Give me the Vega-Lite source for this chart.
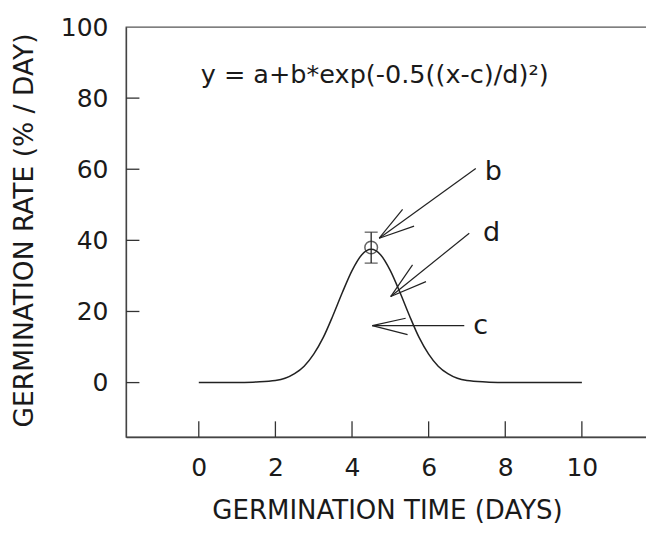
{
  "$schema": "https://vega.github.io/schema/vega-lite/v6.json",
  "width": 521,
  "height": 410,
  "autosize": "none",
  "padding": {"left": 126, "top": 27, "right": 0, "bottom": 96},
  "background": "white",
  "config": {
    "font": "DejaVu Sans",
    "view": {"stroke": "#555", "strokeWidth": 1.3},
    "axis": {
      "domainColor": "#444",
      "domainWidth": 1.3,
      "ticks": false,
      "labelColor": "#1a1a1a",
      "titleColor": "#1a1a1a",
      "labelFont": "DejaVu Sans",
      "titleFont": "DejaVu Sans",
      "labelFontWeight": "normal",
      "titleFontWeight": "normal",
      "grid": false
    }
  },
  "datasets": {
    "curve": [
      {"x": 0, "y": 0}, {"x": 0.5, "y": 0}, {"x": 1, "y": 0.05}, {"x": 1.5, "y": 0.2},
      {"x": 2, "y": 0.6}, {"x": 2.25, "y": 1.2}, {"x": 2.5, "y": 2.5}, {"x": 2.75, "y": 4.6},
      {"x": 3, "y": 8.0}, {"x": 3.25, "y": 12.7}, {"x": 3.5, "y": 18.8}, {"x": 3.75, "y": 25.4},
      {"x": 4, "y": 31.5}, {"x": 4.25, "y": 35.9}, {"x": 4.5, "y": 37.5}, {"x": 4.75, "y": 35.9},
      {"x": 5, "y": 31.5}, {"x": 5.25, "y": 25.4}, {"x": 5.5, "y": 18.8}, {"x": 5.75, "y": 12.7},
      {"x": 6, "y": 8.0}, {"x": 6.25, "y": 4.6}, {"x": 6.5, "y": 2.5}, {"x": 6.75, "y": 1.2},
      {"x": 7, "y": 0.6}, {"x": 7.5, "y": 0.2}, {"x": 8, "y": 0.05}, {"x": 8.5, "y": 0},
      {"x": 9, "y": 0}, {"x": 9.5, "y": 0}, {"x": 10, "y": 0}
    ],
    "peak": [{"x": 4.5, "y": 38, "lo": 33.6, "hi": 42.3}],
    "caps": [{"x": 4.5, "y": 33.6}, {"x": 4.5, "y": 42.3}],
    "xticks": [{"v": 0}, {"v": 2}, {"v": 4}, {"v": 6}, {"v": 8}, {"v": 10}],
    "yticks": [{"v": 0}, {"v": 20}, {"v": 40}, {"v": 60}, {"v": 80}],
    "arrows": [
      {"x": 7.23, "y": 60.2, "x2": 4.71, "y2": 40.6},
      {"x": 5.32, "y": 48.7, "x2": 4.71, "y2": 40.6},
      {"x": 5.62, "y": 44.0, "x2": 4.71, "y2": 40.6},
      {"x": 7.06, "y": 42.0, "x2": 5.01, "y2": 24.2},
      {"x": 5.58, "y": 33.1, "x2": 5.01, "y2": 24.2},
      {"x": 5.93, "y": 28.4, "x2": 5.01, "y2": 24.2},
      {"x": 6.93, "y": 16.0, "x2": 4.53, "y2": 16.0},
      {"x": 5.40, "y": 18.1, "x2": 4.53, "y2": 16.0},
      {"x": 5.45, "y": 13.5, "x2": 4.53, "y2": 16.0}
    ],
    "labels": [
      {"x": 7.69, "y": 59.3, "t": "b"},
      {"x": 7.64, "y": 42.0, "t": "d"},
      {"x": 7.36, "y": 15.8, "t": "c"}
    ],
    "equation": [{"x": 0.05, "y": 86.4, "t": "y = a+b*exp(-0.5((x-c)/d)²)"}]
  },
  "layer": [
    {
      "data": {"name": "curve"},
      "mark": {"type": "line", "color": "#222", "strokeWidth": 1.5, "interpolate": "monotone"},
      "encoding": {
        "x": {
          "field": "x", "type": "quantitative",
          "scale": {"domain": [-1.9, 11.7], "nice": false, "zero": false},
          "axis": {
            "title": "GERMINATION TIME (DAYS)",
            "values": [0, 2, 4, 6, 8, 10],
            "labelPadding": 18,
            "labelFontSize": 25,
            "titleFontSize": 26,
            "titleX": 261,
            "titleY": 73,
            "titleAlign": "center",
            "titleBaseline": "middle"
          }
        },
        "y": {
          "field": "y", "type": "quantitative",
          "scale": {"domain": [-15.3, 100], "nice": false, "zero": false},
          "axis": {
            "title": "GERMINATION RATE (% / DAY)",
            "values": [0, 20, 40, 60, 80, 100],
            "labelPadding": 18,
            "labelFontSize": 25,
            "titleFontSize": 26.5,
            "titleAngle": -90,
            "titleX": -102,
            "titleY": 203,
            "titleAlign": "center",
            "titleBaseline": "middle"
          }
        }
      }
    },
    {
      "data": {"name": "xticks"},
      "mark": {"type": "rule", "color": "#333", "strokeWidth": 1.3},
      "encoding": {
        "x": {"field": "v", "type": "quantitative"},
        "y": {"datum": -15.3},
        "y2": {"datum": -10.9}
      }
    },
    {
      "data": {"name": "yticks"},
      "mark": {"type": "rule", "color": "#333", "strokeWidth": 1.3},
      "encoding": {
        "y": {"field": "v", "type": "quantitative"},
        "x": {"datum": -1.9},
        "x2": {"datum": -1.55}
      }
    },
    {
      "data": {"name": "peak"},
      "mark": {"type": "rule", "color": "#222", "strokeWidth": 1.3},
      "encoding": {
        "x": {"field": "x", "type": "quantitative"},
        "y": {"field": "lo", "type": "quantitative"},
        "y2": {"field": "hi"}
      }
    },
    {
      "data": {"name": "caps"},
      "mark": {"type": "tick", "orient": "horizontal", "color": "#222", "size": 13, "thickness": 1.3},
      "encoding": {
        "x": {"field": "x", "type": "quantitative"},
        "y": {"field": "y", "type": "quantitative"}
      }
    },
    {
      "data": {"name": "peak"},
      "mark": {"type": "point", "shape": "circle", "filled": false, "size": 160, "stroke": "#222", "strokeWidth": 1.5},
      "encoding": {
        "x": {"field": "x", "type": "quantitative"},
        "y": {"field": "y", "type": "quantitative"}
      }
    },
    {
      "data": {"name": "arrows"},
      "mark": {"type": "rule", "color": "#222", "strokeWidth": 1.2},
      "encoding": {
        "x": {"field": "x", "type": "quantitative"},
        "y": {"field": "y", "type": "quantitative"},
        "x2": {"field": "x2"},
        "y2": {"field": "y2"}
      }
    },
    {
      "data": {"name": "labels"},
      "mark": {"type": "text", "font": "DejaVu Sans", "fontSize": 27, "color": "#1a1a1a", "align": "center", "baseline": "middle"},
      "encoding": {
        "x": {"field": "x", "type": "quantitative"},
        "y": {"field": "y", "type": "quantitative"},
        "text": {"field": "t"}
      }
    },
    {
      "data": {"name": "equation"},
      "mark": {"type": "text", "font": "DejaVu Sans", "fontSize": 25.5, "color": "#1a1a1a", "align": "left", "baseline": "middle"},
      "encoding": {
        "x": {"field": "x", "type": "quantitative"},
        "y": {"field": "y", "type": "quantitative"},
        "text": {"field": "t"}
      }
    }
  ]
}
